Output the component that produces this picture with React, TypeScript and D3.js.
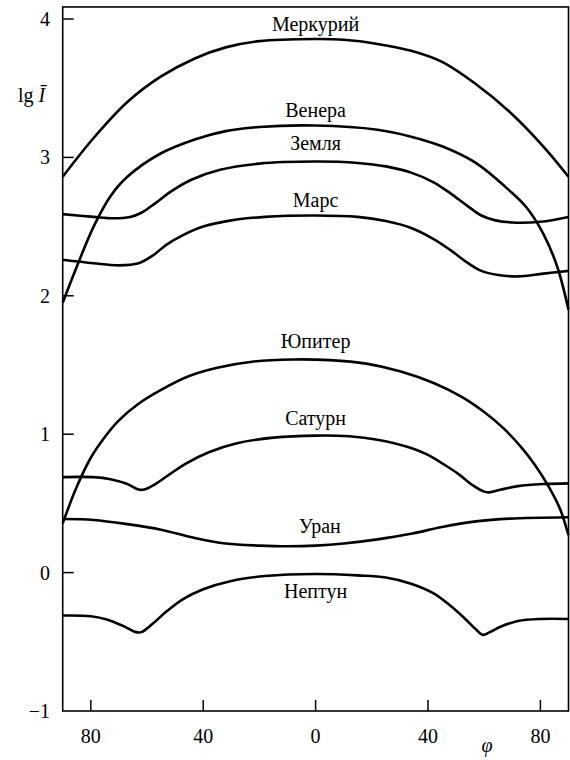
import React from "react";
import * as d3 from "d3";

const W = 570;
const H = 760;

// ---- data (phi in degrees, left side negative; lg I values) ----
const mercuryPhi = [-90, -79, -67, -55, -43, -32, -20, 0, 10, 22, 34, 45, 57, 69, 81, 90];
const mercuryLg = [2.86, 3.14, 3.40, 3.585, 3.715, 3.795, 3.84, 3.855, 3.85, 3.82, 3.77, 3.69, 3.53, 3.33, 3.08, 2.86];

const venusPhi = [-90, -85, -79, -73, -67, -55, -43, -32, -20, 0, 22, 34, 45, 57, 69, 75, 81, 86, 90];
const venusLg = [1.95, 2.21, 2.50, 2.72, 2.86, 3.03, 3.13, 3.19, 3.22, 3.23, 3.20, 3.15, 3.08, 2.96, 2.76, 2.64, 2.45, 2.21, 1.90];

const earthPhi = [-90, -79, -72, -66, -62, -57, -51, -44, -34, -20, 0, 15, 25, 34, 42, 48, 54, 59, 64, 70, 80, 90];
const earthLg = [2.59, 2.57, 2.56, 2.57, 2.60, 2.67, 2.76, 2.84, 2.91, 2.955, 2.97, 2.96, 2.935, 2.89, 2.82, 2.74, 2.65, 2.58, 2.545, 2.53, 2.535, 2.57];

const marsPhi = [-90, -79, -70, -63, -58, -53, -47, -40, -30, -18, 0, 15, 25, 34, 42, 48, 54, 59, 65, 72, 81, 90];
const marsLg = [2.26, 2.235, 2.22, 2.235, 2.29, 2.37, 2.44, 2.50, 2.545, 2.57, 2.58, 2.57, 2.54, 2.49, 2.41, 2.33, 2.24, 2.18, 2.15, 2.14, 2.16, 2.18];

const jupiterPhi = [-90, -85, -80, -75, -70, -63, -55, -45, -35, -22, -8, 5, 18, 30, 42, 52, 60, 67, 73, 78, 83, 87, 90];
const jupiterLg = [0.356, 0.62, 0.83, 0.98, 1.10, 1.22, 1.32, 1.42, 1.48, 1.525, 1.54, 1.535, 1.51, 1.455, 1.37, 1.27, 1.16, 1.04, 0.91, 0.78, 0.62, 0.46, 0.27];

const saturnPhi = [-90, -79, -73, -67, -63, -61, -57, -52, -46, -38, -28, -15, 0, 12, 22, 34, 40, 45, 51, 56, 60, 62, 66, 72, 81, 90];
const saturnLg = [0.69, 0.69, 0.675, 0.64, 0.60, 0.60, 0.64, 0.71, 0.79, 0.87, 0.935, 0.975, 0.99, 0.985, 0.96, 0.90, 0.85, 0.79, 0.71, 0.63, 0.585, 0.58, 0.60, 0.625, 0.64, 0.645];

const uranusPhi = [-90, -79, -67, -55, -43, -32, -20, -10, 0, 10, 22, 34, 45, 57, 69, 90];
const uranusLg = [0.387, 0.38, 0.35, 0.31, 0.25, 0.21, 0.195, 0.19, 0.195, 0.21, 0.24, 0.28, 0.33, 0.37, 0.39, 0.40];

const neptunePhi = [-90, -80, -74, -68, -64, -62, -58, -53, -47, -40, -30, -18, 0, 15, 25, 34, 42, 48, 53, 57, 59.5, 62, 66, 72, 80, 90];
const neptuneLg = [-0.31, -0.315, -0.34, -0.39, -0.43, -0.43, -0.37, -0.28, -0.19, -0.12, -0.06, -0.025, -0.01, -0.02, -0.035, -0.08, -0.15, -0.24, -0.33, -0.41, -0.45, -0.43, -0.39, -0.35, -0.335, -0.335];

const planetNames = ["Меркурий", "Венера", "Земля", "Марс", "Юпитер", "Сатурн", "Уран", "Нептун"];
const labelPhi = [0, 0, 0, 0, 0, 0, 1.5, 0];
const labelLg = [3.913, 3.29, 3.05, 2.64, 1.62, 1.07, 0.286, -0.18];

const yTicks = [-1, 0, 1, 2, 3, 4];
const xTicks = [-80, -40, 0, 40, 80];

const series = [
  [mercuryPhi, mercuryLg],
  [venusPhi, venusLg],
  [earthPhi, earthLg],
  [marsPhi, marsLg],
  [jupiterPhi, jupiterLg],
  [saturnPhi, saturnLg],
  [uranusPhi, uranusLg],
  [neptunePhi, neptuneLg],
];

const textStyle: React.CSSProperties = {
  fontFamily: '"Liberation Serif", "DejaVu Serif", "Times New Roman", serif',
  fontSize: "20px",
};

export default function App() {
  const x = d3.scaleLinear().domain([-90, 90]).range([62.7, 568.5]);
  const y = d3.scaleLinear().domain([-1, 4]).range([711, 19]);
  const top = y(4.087);
  const bottom = y(-1);
  const line = d3
    .line<[number, number]>()
    .x((d) => x(d[0]))
    .y((d) => y(d[1]))
    .curve(d3.curveCatmullRom.alpha(0.5));

  return (
    <svg
      width={W}
      height={H}
      style={{ position: "absolute", left: 0, top: 0, background: "#fff" }}
    >
      <rect x={0} y={0} width={W} height={H} fill="#fff" />
      {/* frame */}
      <rect
        x={x(-90)}
        y={top}
        width={x(90) - x(-90)}
        height={bottom - top}
        fill="none"
        stroke="#000"
        strokeWidth={1.6}
      />
      {/* y ticks */}
      {yTicks.map((t) => (
        <g key={"y" + t}>
          {t > -1 && (
            <line x1={x(-90)} x2={x(-90) + 11} y1={y(t)} y2={y(t)} stroke="#000" strokeWidth={1.5} />
          )}
          <text x={50} y={y(t)} dy="0.35em" textAnchor="end" style={textStyle} fill="#000">
            {t < 0 ? "\u2212" + Math.abs(t) : String(t)}
          </text>
        </g>
      ))}
      {/* x ticks */}
      {xTicks.map((t) => (
        <g key={"x" + t}>
          <line x1={x(t)} x2={x(t)} y1={bottom} y2={bottom - 11} stroke="#000" strokeWidth={1.5} />
          <text x={x(t)} y={743} textAnchor="middle" style={textStyle} fill="#000">
            {String(Math.abs(t))}
          </text>
        </g>
      ))}
      {/* axis labels */}
      <text x={18} y={102} style={textStyle} fill="#000">
        lg <tspan style={{ fontStyle: "italic" }}>Ī</tspan>
      </text>
      <text x={487} y={752} style={{ ...textStyle, fontStyle: "italic" }} textAnchor="middle" fill="#000">
        φ
      </text>
      {/* curves */}
      {series.map(([phi, lg], i) => (
        <path
          key={"s" + i}
          d={line(phi.map((p, j) => [p, lg[j]] as [number, number])) || ""}
          fill="none"
          stroke="#000"
          strokeWidth={2.6}
          strokeLinejoin="round"
        />
      ))}
      {/* planet labels */}
      {planetNames.map((n, i) => (
        <text
          key={"l" + i}
          x={x(labelPhi[i])}
          y={y(labelLg[i])}
          textAnchor="middle"
          style={textStyle}
          fill="#000"
        >
          {n}
        </text>
      ))}
    </svg>
  );
}
